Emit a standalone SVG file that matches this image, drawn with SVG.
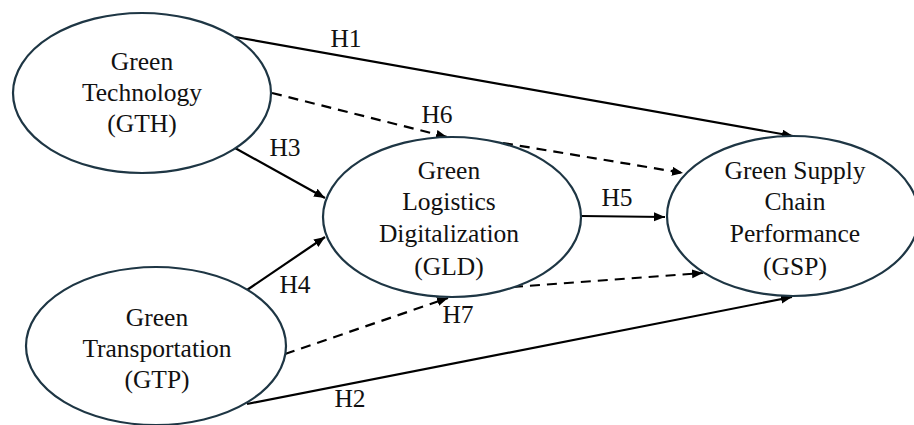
<svg xmlns="http://www.w3.org/2000/svg" width="914" height="425" viewBox="0 0 914 425">
<style>
.node ellipse{fill:#fff;stroke:#1e3644;stroke-width:2.2}
text{font-family:'Liberation Serif','Times New Roman',serif;font-size:25.5px;fill:#111;text-anchor:middle}
.conn line{stroke:#000;stroke-width:2.2;fill:none}
.conn .dash{stroke-dasharray:10 7}
</style>
<defs>
<marker id="ah" markerUnits="userSpaceOnUse" markerWidth="12" markerHeight="10" refX="11" refY="4.5" orient="auto">
<path d="M0,0 L11,4.5 L0,9 z" fill="#000"/>
</marker>
</defs>
<rect width="914" height="425" fill="#fff"/>
<g id="connectors" class="conn">
<line x1="235" y1="37" x2="793" y2="136" marker-end="url(#ah)"/>
<line class="dash" x1="272" y1="93" x2="447" y2="137" marker-end="url(#ah)"/>
<line class="dash" x1="503" y1="143" x2="683" y2="173" marker-end="url(#ah)"/>
<line x1="235" y1="148" x2="325" y2="198" marker-end="url(#ah)"/>
<line x1="247" y1="290" x2="325" y2="237" marker-end="url(#ah)"/>
<line x1="581" y1="216" x2="665" y2="217" marker-end="url(#ah)"/>
<line class="dash" x1="285" y1="354" x2="448" y2="298" marker-end="url(#ah)"/>
<line class="dash" x1="513" y1="287" x2="703" y2="273" marker-end="url(#ah)"/>
<line x1="247" y1="404" x2="792" y2="297" marker-end="url(#ah)"/>
<text x="346" y="47">H1</text>
<text x="437" y="123">H6</text>
<text x="285" y="156">H3</text>
<text x="295" y="293">H4</text>
<text x="617" y="206">H5</text>
<text x="458" y="323">H7</text>
<text x="350" y="407">H2</text>
</g>
<g id="GTH" class="node">
<ellipse cx="142" cy="93" rx="129" ry="80"/>
<text x="142" y="70">Green</text>
<text x="142" y="101">Technology</text>
<text x="142" y="132">(GTH)</text>
</g>
<g id="GTP" class="node">
<ellipse cx="156" cy="346" rx="130" ry="79"/>
<text x="157" y="326">Green</text>
<text x="157" y="357">Transportation</text>
<text x="157" y="388">(GTP)</text>
</g>
<g id="GLD" class="node">
<ellipse cx="452" cy="217" rx="129" ry="80"/>
<text x="449" y="179">Green</text>
<text x="449" y="210">Logistics</text>
<text x="449" y="242">Digitalization</text>
<text x="449" y="275">(GLD)</text>
</g>
<g id="GSP" class="node">
<ellipse cx="793" cy="216" rx="126" ry="80"/>
<text x="795" y="179">Green Supply</text>
<text x="795" y="210">Chain</text>
<text x="795" y="242">Performance</text>
<text x="795" y="275">(GSP)</text>
</g>
</svg>
